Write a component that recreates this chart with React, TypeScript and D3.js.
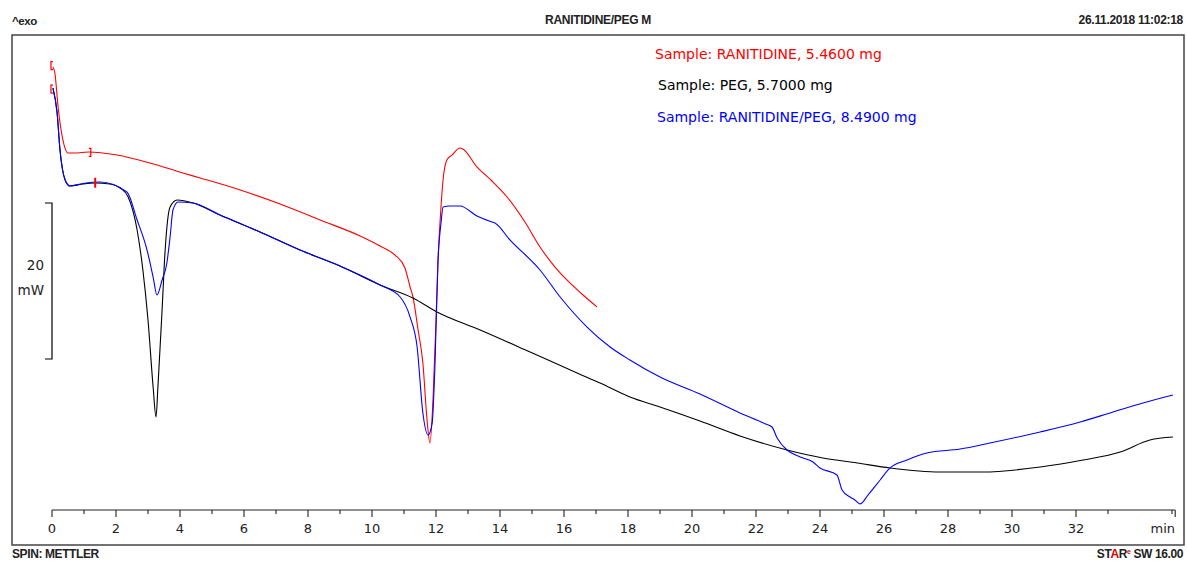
import React from "react";
import * as d3 from "d3";

// DSC heat-flow curves: time (min) vs heat flow (mW, relative offset)
const ranitidineTime = [0.03, 0.09, 0.19, 0.34, 0.5, 0.72, 1.13, 2.03, 3.06, 4.09, 4.63, 5.88, 7.13, 8.38, 9.63, 10.25, 10.72, 11.03, 11.19, 11.28, 11.44, 11.59, 11.72, 11.81, 11.91, 12.0, 12.06, 12.16, 12.22, 12.34, 12.5, 12.75, 12.84, 13.28, 13.75, 14.22, 14.78, 15.25, 15.72, 16.09, 16.56, 17.03];
const ranitidineFlow = [37.44, 36.67, 32.31, 28.08, 26.41, 26.41, 26.54, 26.15, 25.13, 23.85, 23.21, 21.67, 19.87, 17.82, 15.77, 14.49, 13.33, 11.67, 9.23, 7.95, 3.72, -0.51, -7.82, -10.77, -4.87, 5.0, 12.31, 19.74, 22.95, 25.51, 26.15, 27.05, 26.92, 24.62, 22.82, 20.77, 17.56, 14.36, 11.79, 10.13, 8.33, 6.67];

const pegTime = [0.03, 0.16, 0.25, 0.41, 0.56, 0.97, 1.34, 1.81, 2.13, 2.38, 2.66, 2.84, 3.0, 3.16, 3.25, 3.31, 3.44, 3.53, 3.69, 3.91, 4.41, 5.25, 6.5, 7.75, 9.0, 10.25, 11.28, 12.03, 13.38, 14.94, 16.41, 17.13, 18.06, 19.0, 20.25, 21.5, 22.97, 24.09, 25.16, 26.19, 27.75, 29.09, 30.88, 32.22, 33.38, 34.31, 35.03];
const pegFlow = [34.74, 31.54, 26.79, 22.95, 22.18, 22.44, 22.56, 22.44, 21.92, 20.77, 16.54, 11.41, 5.0, -3.59, -7.44, -3.59, 6.28, 13.59, 19.49, 20.38, 20.0, 18.46, 16.28, 13.97, 11.92, 9.49, 7.82, 6.03, 3.72, 0.9, -1.79, -3.08, -4.87, -6.15, -7.95, -9.87, -11.67, -12.69, -13.33, -13.97, -14.49, -14.49, -13.85, -12.95, -11.92, -10.38, -10.0];

const mixTime = [0.03, 0.16, 0.25, 0.41, 0.56, 0.97, 1.5, 2.34, 2.66, 2.97, 3.16, 3.28, 3.44, 3.59, 3.69, 3.78, 3.94, 4.41, 5.25, 6.5, 7.75, 9.0, 10.25, 10.88, 11.19, 11.41, 11.59, 11.75, 11.88, 11.97, 12.06, 12.16, 12.22, 12.44, 12.75, 13.28, 13.75, 13.84, 14.31, 15.25, 15.88, 16.72, 17.44, 18.06, 19.0, 20.25, 21.5, 22.3, 22.5, 22.66, 22.97, 23.38, 23.78, 24.0, 24.53, 24.69, 24.94, 25.09, 25.25, 25.5, 25.88, 26.19, 26.72, 27.34, 28.38, 29.31, 30.88, 32.13, 33.16, 34.09, 35.03];
const mixFlow = [34.74, 31.54, 26.79, 22.95, 22.18, 22.5, 22.69, 21.41, 17.82, 13.97, 10.51, 8.21, 10.13, 12.31, 15.64, 19.1, 20.13, 20.0, 18.46, 16.28, 13.97, 11.92, 9.49, 7.95, 5.38, 1.54, -6.92, -9.74, -8.21, -0.51, 12.31, 17.56, 19.49, 19.62, 19.62, 18.33, 17.56, 17.44, 15.26, 11.41, 7.95, 4.1, 1.54, -0.13, -2.31, -4.49, -6.92, -8.33, -8.72, -10.13, -11.67, -12.56, -13.21, -13.97, -14.87, -16.79, -17.69, -18.08, -18.59, -17.44, -15.51, -13.97, -12.95, -12.05, -11.54, -10.77, -9.36, -8.08, -6.79, -5.64, -4.62];

const legendLabels = [
  "Sample: RANITIDINE, 5.4600 mg",
  "Sample: PEG, 5.7000 mg",
  "Sample: RANITIDINE/PEG, 8.4900 mg",
];
const seriesColors = ["#ff0000", "#000000", "#0000ff"];

const xTicks = d3.range(0, 34, 2);
const xMinorTicks = d3.range(1, 36, 2);

// evaluation limit brackets: [time, flow, direction]
const limitMarks: [number, number, number][] = [
  [0.03, 37.6, 1],
  [0.03, 34.6, 1],
  [1.15, 26.5, -1],
  [1.35, 22.6, 0],
];

const scaleBar = [0, 20];

export default function App() {
  const W = 1187;
  const H = 561;
  const x = d3.scaleLinear().domain([0, 35.1]).range([52, 1175.2]);
  const y = d3.scaleLinear().domain([0, 20]).range([359, 203]);

  const line = (ts: number[], vs: number[]) =>
    d3
      .line<number>()
      .x((_, i) => x(ts[i]))
      .y((v) => y(v))
      .curve(d3.curveMonotoneX)(vs) as string;

  const curves = [
    { t: ranitidineTime, v: ranitidineFlow, c: seriesColors[0] },
    { t: pegTime, v: pegFlow, c: seriesColors[1] },
    { t: mixTime, v: mixFlow, c: seriesColors[2] },
  ];

  const axisY = 510;
  const font = "'DejaVu Sans', Verdana, sans-serif";
  const headFont = "'Liberation Sans', Arial, sans-serif";

  return (
    <svg width={W} height={H} style={{ position: "absolute", left: 0, top: 0, background: "#fff" }}>
      <rect x={0} y={0} width={W} height={H} fill="#fff" />
      {/* header */}
      <text x={12} y={25} fontFamily={headFont} fontWeight="bold" fontSize={11.5} fill="#222" letterSpacing={-0.4}>
        ^exo
      </text>
      <text x={598} y={24} textAnchor="middle" fontFamily={headFont} fontWeight="bold" fontSize={12} fill="#222" letterSpacing={-0.3}>
        RANITIDINE/PEG M
      </text>
      <text x={1183} y={24} textAnchor="end" fontFamily={headFont} fontWeight="bold" fontSize={12} fill="#222" letterSpacing={-0.3}>
        26.11.2018 11:02:18
      </text>
      {/* frame */}
      <rect x={12} y={35} width={1172} height={510} fill="none" stroke="#444" strokeWidth={1.5} />

      {/* legend */}
      {legendLabels.map((s, i) => (
        <text key={s} x={[655, 658, 657][i]} y={[59, 90, 122][i]} fontFamily={font} fontSize={14} fill={seriesColors[i]}>
          {s}
        </text>
      ))}

      {/* scale bar */}
      <path
        d={`M${x(0) - 7},${y(scaleBar[1])}H${x(0)}V${y(scaleBar[0])}H${x(0) - 7}`}
        fill="none"
        stroke="#000"
        strokeWidth={1.2}
      />
      <text x={44} y={270} textAnchor="end" fontFamily={font} fontSize={13.5} fill="#222">
        20
      </text>
      <text x={44} y={295} textAnchor="end" fontFamily={font} fontSize={13.5} fill="#222">
        mW
      </text>

      {/* curves */}
      {curves.map((c, i) => (
        <path key={i} d={line(c.t, c.v)} fill="none" stroke={c.c} strokeWidth={1.1} strokeLinejoin="round" />
      ))}

      {/* limit markers */}
      {limitMarks.map(([t, v, dir], i) => {
        const px = x(t);
        const py = y(v);
        if (dir === 0) {
          return <path key={i} d={`M${px},${py - 5}V${py + 5}`} stroke="#ff0000" strokeWidth={2} />;
        }
        const hx = px + (dir > 0 ? -2 : 2);
        return (
          <path
            key={i}
            d={`M${px},${py - 4}H${hx}V${py + 4}H${px}`}
            fill="none"
            stroke="#ff0000"
            strokeWidth={1.2}
          />
        );
      })}

      {/* time axis */}
      <line x1={x(0)} x2={x(35.1)} y1={axisY} y2={axisY} stroke="#222" strokeWidth={1.2} />
      {xTicks.map((t) => (
        <g key={t}>
          <line x1={x(t)} x2={x(t)} y1={axisY} y2={axisY + 7} stroke="#222" strokeWidth={1.1} />
          <text x={x(t)} y={533} textAnchor="middle" fontFamily={font} fontSize={13} fill="#222">
            {t}
          </text>
        </g>
      ))}
      {xMinorTicks.map((t) => (
        <line key={t} x1={x(t)} x2={x(t)} y1={axisY} y2={axisY + 4} stroke="#222" strokeWidth={1.1} />
      ))}
      <line x1={x(35.1)} x2={x(35.1)} y1={axisY} y2={axisY + 7} stroke="#222" strokeWidth={1.1} />
      <text x={1175} y={533} textAnchor="end" fontFamily={font} fontSize={13} fill="#222">
        min
      </text>

      {/* footer */}
      <text x={12} y={558} fontFamily={headFont} fontWeight="bold" fontSize={12} fill="#222" letterSpacing={-0.4}>
        SPIN: METTLER
      </text>
      <text x={1183} y={558} textAnchor="end" fontFamily={headFont} fontWeight="bold" fontSize={12} fill="#222" letterSpacing={-0.4}>
        <tspan>ST</tspan>
        <tspan fill="#e00000">A</tspan>
        <tspan>R</tspan>
        <tspan fill="#e00000" fontSize={7} dy={-4}>e</tspan>
        <tspan dy={4}> SW 16.00</tspan>
      </text>
    </svg>
  );
}
